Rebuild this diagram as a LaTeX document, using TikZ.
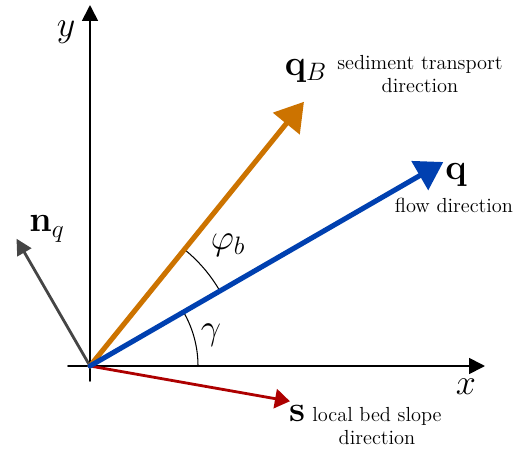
\documentclass[tikz,border=0pt]{standalone}
\usepackage{fix-cm}
\usepackage{tkz-euclide}
\usetikzlibrary{arrows.meta,calc}
\definecolor{FlowClr}{rgb}{0,0.25,0.69}
\definecolor{SedClr}{rgb}{0.8,0.45,0}
\definecolor{SlopeClr}{rgb}{0.68,0,0}
\definecolor{NormClr}{rgb}{0.27,0.27,0.27}

\begin{document}
\begin{tikzpicture}[
  mathlbl/.style={inner sep=0pt,font=\fontsize{20.5}{24}\selectfont},
  desclbl/.style={inner sep=0pt,align=center,font=\fontsize{11.6}{12.8}\selectfont}]
\useasboundingbox (-1.8,-1.7) rectangle (8.78,7.32);

\tkzDefPoints{0/0/O,-0.44/0/X1,7.9/0/X2,0/-0.3/Y1,0/7.22/Y2}
\tkzDefPoint(30:8.16){Q}
\tkzDefPoint(51:6.8){QB}
\tkzDefPoint(120:2.94){N}
\tkzDefPoint(-10:4.06){S}

% axes
\tkzDrawSegments[line width=1pt,color=black,-{Triangle[length=9pt,width=9pt]}](X1,X2 Y1,Y2)

% angle arcs
\draw[line width=0.6pt] (0:2.16) arc (0:30:2.16);
\draw[line width=0.6pt] (30:3) arc (30:51:3);

% vectors
\tkzDrawSegment[line width=1.6pt,color=NormClr,-{Triangle[length=9pt,width=9pt]}](O,N)
\tkzDrawSegment[line width=1.6pt,color=SlopeClr,-{Triangle[length=8.5pt,width=11pt]}](O,S)
\tkzDrawSegment[line width=2.9pt,color=SedClr,-{Triangle[length=16pt,width=19pt]}](O,QB)
\tkzDrawSegment[line width=2.9pt,color=FlowClr,-{Triangle[length=15.5pt,width=18.5pt]}](O,Q)

\node[mathlbl] (xlab) at (7.52,-0.42) {$x$};
\node[mathlbl] (ylab) at (-0.48,6.68) {$y$};
\node[mathlbl] (nlab) at (-0.86,2.74) {$\mathbf{n}_q$};
\node[mathlbl] (qlab) at (7.32,3.82) {$\mathbf{q}$};
\node[mathlbl] (qblab) at (4.32,5.9) {$\mathbf{q}_B$};
\node[mathlbl] (slab) at (4.14,-0.94) {$\mathbf{s}$};
\node[mathlbl] (glab) at (2.42,0.62) {$\gamma$};
\node[mathlbl] (plab) at (2.76,2.42) {$\varphi_b$};

\node[desclbl] (qtxt) at (7.28,3.22) {flow direction};
\node[desclbl] (qbtxt) at (6.6,5.84) {sediment transport\\direction};
\node[desclbl] (stxt) at (5.74,-1.2) {local bed slope\\direction};

\end{tikzpicture}
\end{document}
